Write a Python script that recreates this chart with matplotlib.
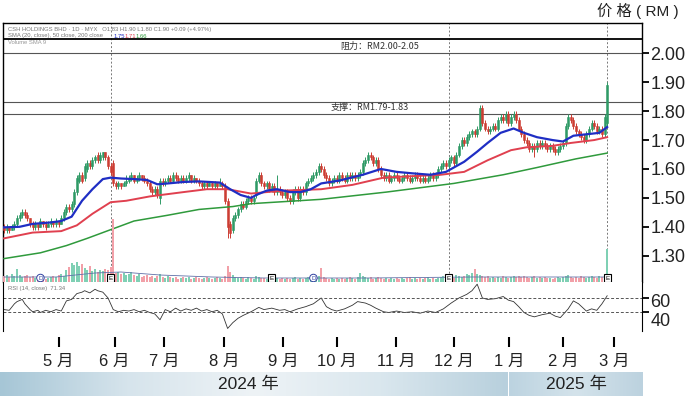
import matplotlib.pyplot as plt
import numpy as np
from matplotlib.colors import LinearSegmentedColormap
from matplotlib.transforms import ScaledTranslation

plt.rcParams['font.family'] = ['Liberation Sans', 'Noto Sans CJK SC']

# === MARK: daily candles, one entry per trading day (Apr 2024 - Feb 2025)
opens = [1.40, 1.39, 1.40, 1.39, 1.40, 1.41, 1.43, 1.44, 1.45, 1.44,
         1.43, 1.41, 1.40, 1.41, 1.40, 1.42, 1.41, 1.40, 1.41, 1.42,
         1.41, 1.42, 1.41, 1.43, 1.45, 1.47, 1.46, 1.48, 1.52, 1.56,
         1.58, 1.57, 1.60, 1.62, 1.61, 1.63, 1.65, 1.63, 1.64, 1.66,
         1.64, 1.61, 1.62, 1.55, 1.54, 1.55, 1.54, 1.55, 1.56, 1.57,
         1.58, 1.56, 1.57, 1.58, 1.57, 1.56, 1.55, 1.53, 1.52, 1.53,
         1.50, 1.56, 1.55, 1.56, 1.57, 1.56, 1.58, 1.57, 1.56, 1.57,
         1.56, 1.57, 1.58, 1.56, 1.57, 1.56, 1.55, 1.54, 1.55, 1.54,
         1.55, 1.54, 1.55, 1.54, 1.55, 1.54, 1.49, 1.41, 1.39, 1.43,
         1.44, 1.46, 1.48, 1.47, 1.49, 1.50, 1.49, 1.51, 1.56, 1.58,
         1.55, 1.54, 1.55, 1.53, 1.54, 1.52, 1.53, 1.52, 1.51, 1.52,
         1.50, 1.49, 1.52, 1.53, 1.50, 1.53, 1.52, 1.55, 1.56, 1.57,
         1.58, 1.59, 1.61, 1.60, 1.58, 1.57, 1.55, 1.56, 1.57, 1.56,
         1.58, 1.57, 1.56, 1.58, 1.57, 1.58, 1.57, 1.58, 1.59, 1.62,
         1.63, 1.65, 1.64, 1.62, 1.63, 1.60, 1.58, 1.57, 1.58, 1.56,
         1.57, 1.58, 1.57, 1.56, 1.57, 1.58, 1.57, 1.56, 1.57, 1.58,
         1.57, 1.56, 1.57, 1.56, 1.57, 1.58, 1.57, 1.58, 1.60, 1.61,
         1.62, 1.61, 1.63, 1.64, 1.62, 1.65, 1.68, 1.70, 1.69, 1.71,
         1.72, 1.73, 1.72, 1.74, 1.81, 1.76, 1.74, 1.73, 1.74, 1.75,
         1.74, 1.77, 1.78, 1.77, 1.79, 1.76, 1.78, 1.79, 1.77, 1.74,
         1.72, 1.70, 1.69, 1.67, 1.68, 1.67, 1.69, 1.68, 1.69, 1.68,
         1.67, 1.68, 1.67, 1.66, 1.67, 1.68, 1.69, 1.75, 1.78, 1.77,
         1.75, 1.73, 1.72, 1.71, 1.70, 1.72, 1.74, 1.76, 1.75, 1.73,
         1.74, 1.72, 1.76]
closes = [1.39, 1.40, 1.39, 1.40, 1.41, 1.43, 1.44, 1.45, 1.44, 1.43,
          1.41, 1.40, 1.41, 1.40, 1.42, 1.41, 1.40, 1.41, 1.42, 1.41,
          1.42, 1.41, 1.43, 1.45, 1.47, 1.46, 1.48, 1.52, 1.57, 1.58,
          1.56, 1.61, 1.62, 1.61, 1.63, 1.64, 1.63, 1.65, 1.66, 1.64,
          1.61, 1.59, 1.55, 1.54, 1.55, 1.54, 1.55, 1.56, 1.57, 1.58,
          1.56, 1.57, 1.58, 1.57, 1.56, 1.55, 1.53, 1.52, 1.53, 1.51,
          1.56, 1.55, 1.56, 1.57, 1.56, 1.58, 1.57, 1.56, 1.57, 1.56,
          1.57, 1.58, 1.56, 1.57, 1.56, 1.55, 1.54, 1.55, 1.54, 1.55,
          1.54, 1.55, 1.54, 1.55, 1.54, 1.49, 1.40, 1.38, 1.43, 1.44,
          1.46, 1.48, 1.47, 1.49, 1.50, 1.49, 1.50, 1.56, 1.58, 1.55,
          1.54, 1.55, 1.53, 1.54, 1.52, 1.53, 1.52, 1.51, 1.52, 1.50,
          1.49, 1.52, 1.53, 1.50, 1.53, 1.52, 1.55, 1.56, 1.57, 1.58,
          1.59, 1.61, 1.60, 1.58, 1.57, 1.55, 1.56, 1.57, 1.56, 1.58,
          1.57, 1.56, 1.58, 1.57, 1.58, 1.57, 1.58, 1.59, 1.62, 1.63,
          1.65, 1.64, 1.62, 1.63, 1.60, 1.58, 1.57, 1.58, 1.56, 1.57,
          1.58, 1.57, 1.56, 1.57, 1.58, 1.57, 1.56, 1.57, 1.58, 1.57,
          1.56, 1.57, 1.56, 1.57, 1.58, 1.57, 1.58, 1.60, 1.61, 1.62,
          1.61, 1.63, 1.64, 1.62, 1.65, 1.68, 1.70, 1.69, 1.71, 1.72,
          1.73, 1.72, 1.74, 1.81, 1.76, 1.74, 1.73, 1.74, 1.75, 1.74,
          1.77, 1.78, 1.77, 1.79, 1.76, 1.78, 1.79, 1.77, 1.74, 1.72,
          1.70, 1.69, 1.67, 1.68, 1.67, 1.69, 1.68, 1.69, 1.68, 1.67,
          1.68, 1.67, 1.66, 1.67, 1.68, 1.69, 1.75, 1.78, 1.77, 1.75,
          1.73, 1.72, 1.71, 1.70, 1.72, 1.74, 1.76, 1.75, 1.73, 1.74,
          1.72, 1.78, 1.89]
highs = [1.41, 1.41, 1.40, 1.41, 1.42, 1.44, 1.45, 1.46, 1.46, 1.45,
         1.43, 1.42, 1.42, 1.41, 1.43, 1.42, 1.42, 1.42, 1.43, 1.42,
         1.43, 1.42, 1.44, 1.46, 1.48, 1.48, 1.49, 1.53, 1.58, 1.59,
         1.59, 1.62, 1.63, 1.63, 1.64, 1.65, 1.66, 1.66, 1.66, 1.66,
         1.65, 1.62, 1.63, 1.56, 1.56, 1.55, 1.56, 1.58, 1.58, 1.59,
         1.58, 1.58, 1.59, 1.58, 1.58, 1.57, 1.56, 1.54, 1.54, 1.54,
         1.57, 1.57, 1.57, 1.58, 1.58, 1.59, 1.59, 1.58, 1.58, 1.58,
         1.58, 1.59, 1.58, 1.58, 1.57, 1.57, 1.56, 1.56, 1.56, 1.56,
         1.56, 1.56, 1.55, 1.57, 1.56, 1.55, 1.50, 1.42, 1.44, 1.45,
         1.47, 1.49, 1.49, 1.50, 1.51, 1.51, 1.51, 1.57, 1.59, 1.59,
         1.56, 1.56, 1.56, 1.55, 1.55, 1.58, 1.54, 1.53, 1.53, 1.53,
         1.51, 1.53, 1.54, 1.54, 1.54, 1.54, 1.56, 1.57, 1.58, 1.59,
         1.60, 1.62, 1.62, 1.61, 1.59, 1.58, 1.57, 1.58, 1.58, 1.59,
         1.59, 1.58, 1.59, 1.59, 1.59, 1.59, 1.59, 1.60, 1.63, 1.64,
         1.66, 1.66, 1.65, 1.64, 1.64, 1.61, 1.59, 1.59, 1.59, 1.58,
         1.59, 1.59, 1.58, 1.58, 1.59, 1.59, 1.58, 1.58, 1.59, 1.59,
         1.58, 1.58, 1.58, 1.58, 1.59, 1.59, 1.59, 1.61, 1.62, 1.63,
         1.63, 1.64, 1.65, 1.65, 1.66, 1.69, 1.71, 1.71, 1.72, 1.73,
         1.74, 1.74, 1.75, 1.82, 1.82, 1.77, 1.75, 1.75, 1.76, 1.76,
         1.78, 1.79, 1.79, 1.80, 1.80, 1.79, 1.80, 1.80, 1.78, 1.75,
         1.73, 1.71, 1.70, 1.69, 1.69, 1.70, 1.70, 1.70, 1.70, 1.69,
         1.69, 1.69, 1.68, 1.68, 1.69, 1.70, 1.76, 1.79, 1.79, 1.78,
         1.76, 1.74, 1.73, 1.72, 1.73, 1.75, 1.77, 1.77, 1.76, 1.75,
         1.75, 1.79, 1.90]
lows = [1.38, 1.38, 1.38, 1.39, 1.39, 1.40, 1.42, 1.43, 1.43, 1.42,
        1.40, 1.39, 1.39, 1.39, 1.40, 1.40, 1.39, 1.40, 1.40, 1.40,
        1.40, 1.40, 1.41, 1.42, 1.44, 1.45, 1.45, 1.47, 1.51, 1.55,
        1.55, 1.56, 1.59, 1.60, 1.60, 1.62, 1.62, 1.62, 1.63, 1.63,
        1.60, 1.58, 1.54, 1.53, 1.53, 1.53, 1.54, 1.54, 1.55, 1.56,
        1.55, 1.55, 1.56, 1.56, 1.55, 1.54, 1.52, 1.51, 1.51, 1.50,
        1.48, 1.54, 1.54, 1.55, 1.55, 1.55, 1.56, 1.55, 1.55, 1.55,
        1.55, 1.56, 1.55, 1.55, 1.55, 1.54, 1.53, 1.53, 1.53, 1.54,
        1.53, 1.53, 1.53, 1.54, 1.53, 1.48, 1.36, 1.36, 1.38, 1.42,
        1.43, 1.45, 1.46, 1.46, 1.48, 1.48, 1.48, 1.50, 1.55, 1.54,
        1.53, 1.53, 1.52, 1.52, 1.51, 1.51, 1.51, 1.50, 1.50, 1.49,
        1.48, 1.48, 1.51, 1.49, 1.49, 1.51, 1.51, 1.54, 1.55, 1.56,
        1.57, 1.58, 1.59, 1.57, 1.56, 1.54, 1.54, 1.55, 1.55, 1.55,
        1.56, 1.55, 1.55, 1.56, 1.56, 1.56, 1.56, 1.57, 1.58, 1.61,
        1.62, 1.63, 1.61, 1.61, 1.59, 1.57, 1.56, 1.56, 1.55, 1.55,
        1.56, 1.56, 1.55, 1.55, 1.56, 1.56, 1.55, 1.55, 1.56, 1.56,
        1.55, 1.55, 1.55, 1.55, 1.56, 1.56, 1.56, 1.57, 1.59, 1.60,
        1.60, 1.60, 1.62, 1.61, 1.61, 1.64, 1.67, 1.68, 1.68, 1.70,
        1.71, 1.71, 1.71, 1.73, 1.75, 1.73, 1.72, 1.72, 1.73, 1.73,
        1.73, 1.76, 1.76, 1.76, 1.75, 1.75, 1.77, 1.76, 1.73, 1.71,
        1.69, 1.68, 1.66, 1.66, 1.64, 1.66, 1.67, 1.67, 1.67, 1.66,
        1.66, 1.66, 1.65, 1.65, 1.66, 1.67, 1.68, 1.74, 1.76, 1.74,
        1.72, 1.71, 1.70, 1.69, 1.69, 1.71, 1.73, 1.74, 1.72, 1.72,
        1.71, 1.71, 1.75]
volume = [6, 7, 5, 8, 6, 13, 7, 5, 6, 7,
          5, 6, 4, 4, 5, 4, 3, 4, 5, 6,
          5, 7, 8, 6, 12, 15, 19, 17, 20, 16,
          18, 14, 12, 16, 11, 13, 10, 12, 11, 13,
          12, 15, 63, 9, 10, 8, 9, 7, 8, 10,
          7, 6, 8, 5, 6, 7, 5, 6, 4, 6,
          8, 5, 4, 6, 5, 4, 5, 3, 4, 5,
          4, 5, 3, 4, 5, 4, 3, 4, 5, 4,
          3, 4, 5, 4, 3, 6, 16, 10, 7, 5,
          4, 5, 4, 3, 5, 4, 3, 6, 5, 4,
          4, 3, 4, 5, 3, 4, 3, 4, 3, 4,
          3, 4, 5, 3, 4, 3, 4, 5, 4, 6,
          5, 6, 14, 5, 4, 3, 4, 3, 4, 3,
          4, 3, 4, 5, 4, 3, 5, 9, 6, 5,
          4, 5, 3, 4, 5, 4, 3, 4, 3, 4,
          3, 4, 3, 4, 3, 4, 5, 3, 4, 3,
          4, 3, 4, 5, 3, 4, 3, 4, 5, 6,
          5, 6, 5, 4, 7, 6, 5, 6, 8, 7,
          9, 13, 8, 7, 6, 5, 6, 4, 5, 4,
          5, 4, 6, 5, 4, 5, 6, 5, 6, 5,
          6, 5, 4, 5, 6, 4, 5, 4, 5, 4,
          4, 3, 4, 5, 4, 5, 6, 7, 5, 4,
          5, 4, 6, 5, 4, 5, 6, 5, 4, 6,
          5, 8, 33]

# === MARK: moving averages, read at anchor days
ma20_days = [0, 6, 11, 18, 22, 26, 30, 34, 38, 41, 45, 50, 55, 59, 63, 69, 75, 83,
             87, 91, 95, 97, 101, 105, 110, 114, 118, 122, 129, 138, 145, 151, 157,
             164, 170, 177, 182, 186, 191, 196, 200, 205, 211, 215, 219, 224, 229, 232]
ma20 = [1.398, 1.400, 1.410, 1.415, 1.420, 1.435, 1.490, 1.530, 1.565, 1.570, 1.567,
        1.565, 1.562, 1.547, 1.550, 1.555, 1.557, 1.553, 1.530, 1.510, 1.500, 1.510,
        1.525, 1.530, 1.520, 1.520, 1.530, 1.550, 1.560, 1.580, 1.600, 1.590, 1.585,
        1.580, 1.590, 1.625, 1.660, 1.690, 1.725, 1.740, 1.725, 1.710, 1.700, 1.695,
        1.715, 1.720, 1.725, 1.745]
ma50_days = [0, 11, 22, 28, 34, 41, 47, 56, 69, 78, 86, 95, 101, 107, 122, 134, 146,
             157, 168, 177, 186, 195, 201, 211, 218, 227, 232]
ma50 = [1.360, 1.380, 1.385, 1.405, 1.445, 1.485, 1.490, 1.505, 1.520, 1.530, 1.530,
        1.515, 1.520, 1.525, 1.530, 1.545, 1.570, 1.575, 1.580, 1.590, 1.630, 1.665,
        1.675, 1.680, 1.690, 1.700, 1.710]
ma200_days = [0, 14, 24, 32, 41, 50, 63, 75, 88, 95, 122, 147, 173, 192, 205, 220, 232]
ma200 = [1.290, 1.310, 1.335, 1.360, 1.390, 1.420, 1.440, 1.460, 1.470, 1.480, 1.495,
         1.520, 1.550, 1.580, 1.605, 1.635, 1.655]
vol_ma_days = [0, 20, 35, 45, 60, 80, 100, 140, 180, 232]
vol_ma = [5, 5, 9, 10, 7, 5, 4, 4, 5, 5]

# === MARK: RSI (14)
rsi_days = [0, 2, 4, 5, 7, 8, 10, 11, 13, 14, 16, 18, 20, 22, 24, 26, 28, 30, 31, 33,
            35, 36, 38, 40, 42, 44, 46, 48, 50, 52, 54, 56, 58, 60, 62, 64, 66, 68, 70,
            72, 74, 76, 78, 80, 82, 84, 86, 88, 90, 92, 95, 98, 100, 103, 106, 108, 110,
            113, 116, 119, 122, 124, 126, 128, 131, 134, 136, 139, 141, 143, 146, 148,
            151, 154, 157, 160, 163, 166, 169, 172, 175, 178, 180, 182, 184, 186, 189,
            192, 194, 196, 198, 200, 202, 204, 207, 210, 212, 214, 217, 219, 221, 224,
            226, 228, 230, 232]
rsi = [44, 43, 52, 55, 58, 52, 44, 41, 43, 40, 43, 41, 44, 42, 56, 58, 66, 68, 70, 67,
       72, 70, 68, 60, 44, 41, 43, 42, 44, 41, 43, 40, 38, 30, 44, 41, 46, 42, 45,
       43, 46, 42, 44, 41, 43, 38, 18, 26, 32, 36, 41, 47, 44, 46, 43, 44, 41,
       45, 48, 52, 60, 48, 44, 42, 45, 50, 55, 53, 50, 46, 41, 40,
       42, 40, 41, 39, 42, 40, 45, 53, 60, 65, 70, 79, 60, 58, 59,
       62, 57, 55, 48, 40, 36, 34, 37, 39, 35, 33, 45, 56, 52, 42,
       45, 43, 52, 63]

# === MARK: annotations
levels = [2.05, 2.00, 1.83, 1.79]
event_days = [41, 171, 232]
e_marks = [41, 103, 171, 232]
d_marks = [14, 119]
month_days = [21, 42.5, 61.5, 84.6, 107.3, 128.1, 150.8, 173.1, 194.2, 215, 234.6]
month_labels = ['5 月', '6 月', '7 月', '8 月', '9 月', '10 月', '11 月', '12 月',
                '1 月', '2 月', '3 月']
price_ticks = [1.30, 1.40, 1.50, 1.60, 1.70, 1.80, 1.90, 2.00]

W, H = 687, 396
fig = plt.figure(figsize=(W / 100, H / 100), dpi=100)
x0, xw = 3 / W, 639 / W
xlim = (-0.4, 245.4)

# === MARK: price panel
ax = fig.add_axes([x0, 1 - 282 / H, xw, 259 / H])
# volume sits on its own scale at the bottom of the price panel
axv = ax.twinx()

ax.set_xlim(*xlim)
ax.set_ylim(1.209, 2.105)

o = np.array(opens); c = np.array(closes)
hi = np.array(highs); lo = np.array(lows)
days = np.arange(len(c))
up = c >= o
green, red = '#2f9a66', '#cc3d33'
cols = np.where(up, green, red)
ax.vlines(days, lo, hi, colors=cols, lw=0.7, zorder=3)
ax.bar(days, np.maximum(np.abs(c - o), 0.003), bottom=np.minimum(o, c), width=0.8,
       color=cols, edgecolor=cols, linewidth=0.4, zorder=4)

ax.plot(ma200_days, ma200, color='#2f9a3c', lw=1.1, zorder=5)
ax.plot(ma50_days, ma50, color='#e0404f', lw=1.4, zorder=5)
ax.plot(ma20_days, ma20, color='#1f2ec4', lw=1.6, zorder=6)

ax.axhline(levels[0], color='black', lw=1.3, zorder=2)
for lv in levels[1:]:
    ax.axhline(lv, color='#555555', lw=0.8, zorder=2)
for d in event_days:
    ax.axvline(d, ymin=0.02, color='#777777', lw=0.7, ls=(0, (2, 2)), zorder=1)

ax.text(144.6, 2.026, '阻力：RM2.00-2.05', fontsize=6.5, color='#333333',
        family=['Noto Sans CJK SC'], ha='center', va='center')
ax.text(140.8, 1.812, '支撑：RM1.79-1.83', fontsize=6.5, color='#333333',
        family=['Noto Sans CJK SC'], ha='center', va='center')

ax.yaxis.tick_right()
ax.set_yticks(price_ticks)
ax.set_yticklabels(['%.2f' % p for p in price_ticks])
ax.tick_params(axis='y', which='both', left=False, labelleft=False, right=True,
               labelright=True, direction='out', length=5, width=1.3, pad=1,
               labelsize=13, labelcolor='#222222')
ax.tick_params(axis='x', bottom=False, labelbottom=False)
for s in ['left', 'right', 'top']:
    ax.spines[s].set_color('black')
    ax.spines[s].set_linewidth(1.0)
ax.spines['bottom'].set_color('#cccccc')
ax.spines['bottom'].set_linewidth(0.5)

axv.set_xlim(*xlim)
axv.set_ylim(0, 259)
vcols = np.where(up, '#7fd0b4', '#f2a0a8')
axv.bar(days, volume, width=0.8, color=vcols, zorder=1)
axv.plot(vol_ma_days, vol_ma, color='#6070a8', lw=0.6)
for d in e_marks:
    axv.text(d, 4, 'E', fontsize=4.5, ha='center', va='center', color='black',
             bbox=dict(boxstyle='square,pad=0.25', fc='white', ec='black', lw=0.8))
for d in d_marks:
    axv.text(d, 4, 'D', fontsize=4.5, ha='center', va='center', color='#3040a0',
             bbox=dict(boxstyle='circle,pad=0.2', fc='white', ec='#3040a0', lw=0.7))
axv.axis('off')

# legend lines in the top left corner
fig.text(8 / W, 1 - 30 / H, 'CSH HOLDINGS BHD · 1D · MYX   O1.83 H1.90 L1.80 C1.90 +0.09 (+4.97%)',
         fontsize=4.2, color='#777777', va='center')
fig.text(8 / W, 1 - 36 / H, 'SMA (20, close), 50 close, 200 close', fontsize=4.2,
         color='#777777', va='center')
fig.text(114 / W, 1 - 36 / H, '1.75', fontsize=4.2, color='#1f2ec4', va='center')
fig.text(125 / W, 1 - 36 / H, '1.71', fontsize=4.2, color='#e0404f', va='center')
fig.text(136 / W, 1 - 36 / H, '1.66', fontsize=4.2, color='#2f9a3c', va='center')
fig.text(8 / W, 1 - 42 / H, 'Volume SMA 9', fontsize=4.2, color='#999999', va='center')

fig.text(638 / W, 1 - 11 / H, '价 格 ( RM )', fontsize=11, ha='center', va='center',
         color='#222222', family=['Liberation Sans', 'Noto Sans CJK SC'])

# === MARK: RSI panel
axr = fig.add_axes([x0, 1 - 331 / H, xw, 49 / H])
axr.set_xlim(*xlim)
axr.set_ylim(14.5, 82)
axr.plot(rsi_days, rsi, color='#333333', lw=0.6)
for lv in [60, 40]:
    axr.axhline(lv, color='#555555', lw=0.7, ls=(0, (3, 2)))
axr.text(0.008, 0.86, 'RSI (14, close)  71.34', transform=axr.transAxes, fontsize=4.2,
         color='#777777', va='center')
axr.yaxis.tick_right()
axr.set_yticks([60, 40])
axr.set_yticklabels(['60', '40'])
axr.tick_params(axis='y', direction='out', length=5, width=1.3, pad=1,
                labelsize=13, labelcolor='#222222')
# the printed labels sit a little below their ticks, as in the source
for lab, dy in zip(axr.get_yticklabels(), [3, 7]):
    lab.set_transform(lab.get_transform() + ScaledTranslation(0, -dy / 100, fig.dpi_scale_trans))
axr.tick_params(axis='x', bottom=False, labelbottom=False)
axr.spines['top'].set_visible(False)
axr.spines['bottom'].set_visible(False)
for s in ['left', 'right']:
    axr.spines[s].set_color('black')

# === MARK: month axis
axm = fig.add_axes([x0, 1 - 347 / H, xw, 7 / H])
axm.set_xlim(*xlim)
axm.set_xticks(month_days)
axm.set_xticklabels(month_labels)
axm.tick_params(axis='x', direction='in', length=7, width=1.5, pad=5, labelsize=12,
                labelcolor='#222222')
axm.set_yticks([])
for s in axm.spines.values():
    s.set_visible(False)

# === MARK: year bands
band_cmap = LinearSegmentedColormap.from_list(
    'band', ['#a6c6d6', '#d6e4ec', '#eef3f6', '#dae7ee', '#b8d0dd'])
band2_cmap = LinearSegmentedColormap.from_list(
    'band2', ['#bcd3e0', '#d4e3eb', '#bcd2df'])
grad = np.linspace(0, 1, 256).reshape(1, -1)
for pos, cmap, label in [([0, 0, 507 / W, 24 / H], band_cmap, '2024 年'),
                         ([509 / W, 0, 134 / W, 24 / H], band2_cmap, '2025 年')]:
    axy = fig.add_axes(pos)
    axy.imshow(grad, aspect='auto', cmap=cmap, extent=(0, 1, 0, 1))
    axy.text(0.5 if label == '2025 年' else 0.49, 0.5, label, fontsize=12.5,
             ha='center', va='center', color='#222222', transform=axy.transAxes)
    axy.axis('off')

plt.savefig('out.png', dpi=100)
